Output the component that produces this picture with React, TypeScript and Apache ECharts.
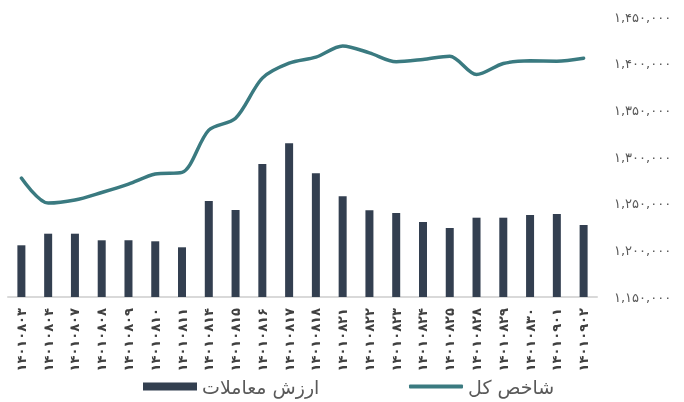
import React, { useEffect, useRef } from "react";
import * as echarts from "echarts";

const categories = [
  "14010803", "14010804", "14010807", "14010808", "14010809", "14010810",
  "14010811", "14010814", "14010815", "14010816", "14010817", "14010818",
  "14010821", "14010822", "14010823", "14010824", "14010825", "14010828",
  "14010829", "14010830", "14010901", "14010902",
];

const tradeValue = [
  5170, 6330, 6330, 5670, 5670, 5570, 4970, 9600, 8700, 13300, 15370, 12370,
  10070, 8670, 8400, 7500, 6900, 7930, 7930, 8200, 8300, 7200,
];

const totalIndex = [
  1277400, 1250600, 1253900, 1262000, 1271000, 1281700, 1283500, 1328800,
  1341600, 1384500, 1400500, 1407000, 1419000, 1411600, 1402000, 1404500,
  1408000, 1388400, 1400200, 1403000, 1402700, 1405900,
];

const barName = "ارزش معاملات";
const lineName = "شاخص کل";

const faDigits = "۰۱۲۳۴۵۶۷۸۹";
const toFa = (s: string) => s.replace(/[0-9]/g, (d) => faDigits[Number(d)]);
const fmt = (v: number) => toFa(v.toString().replace(/\B(?=(\d{3})+(?!\d))/g, ","));

const FONT = "'DejaVu Sans', sans-serif";

export default function App() {
  const ref = useRef<HTMLDivElement>(null);
  useEffect(() => {
    if (!ref.current) return;
    const chart = echarts.init(ref.current, undefined, { renderer: "svg" });
    chart.setOption({
      animation: false,
      textStyle: { fontFamily: FONT },
      grid: { left: 8, right: 87, top: 17, bottom: 105, containLabel: false },
      legend: [
        {
          left: 138,
          top: 372,
          data: [{ name: barName, icon: "rect" }],
          itemWidth: 54,
          itemHeight: 8,
          itemGap: 5,
          textStyle: { fontSize: 19, color: "#595959", fontFamily: FONT },
        },
        {
          left: 404,
          top: 372,
          data: [{ name: lineName, icon: "roundRect" }],
          itemWidth: 54,
          itemHeight: 4,
          textStyle: { fontSize: 19, color: "#595959", fontFamily: FONT },
        },
      ],
      xAxis: {
        type: "category",
        data: categories,
        axisLine: { lineStyle: { color: "#D9D9D9", width: 2 } },
        axisTick: { show: false },
        axisLabel: {
          rotate: 90,
          interval: 0,
          margin: 11,
          fontSize: 13,
          fontWeight: "bold",
          color: "#404040",
          fontFamily: FONT,
          formatter: (v: string) => toFa(v),
        },
      },
      yAxis: [
        {
          type: "value",
          position: "left",
          min: 0,
          max: 28000,
          show: false,
          splitLine: { show: false },
        },
        {
          type: "value",
          position: "right",
          min: 1150000,
          max: 1450000,
          interval: 50000,
          axisLine: { show: false },
          axisTick: { show: false },
          splitLine: { show: false },
          axisLabel: {
            margin: 17,
            fontSize: 13,
            color: "#595959",
            fontFamily: FONT,
            formatter: (v: number) => fmt(v),
          },
        },
      ],
      series: [
        {
          name: barName,
          type: "bar",
          yAxisIndex: 0,
          data: tradeValue,
          barWidth: 8,
          itemStyle: { color: "#333F50" },
        },
        {
          name: lineName,
          type: "line",
          yAxisIndex: 1,
          data: totalIndex,
          smooth: 0.3,
          symbol: "none",
          lineStyle: { color: "#3A7A80", width: 3.5, cap: "round" },
          itemStyle: { color: "#3A7A80" },
        },
      ],
    });
    return () => chart.dispose();
  }, []);
  return (
    <div
      ref={ref}
      style={{ position: "fixed", left: 0, top: 0, width: 684, height: 402 }}
    />
  );
}
